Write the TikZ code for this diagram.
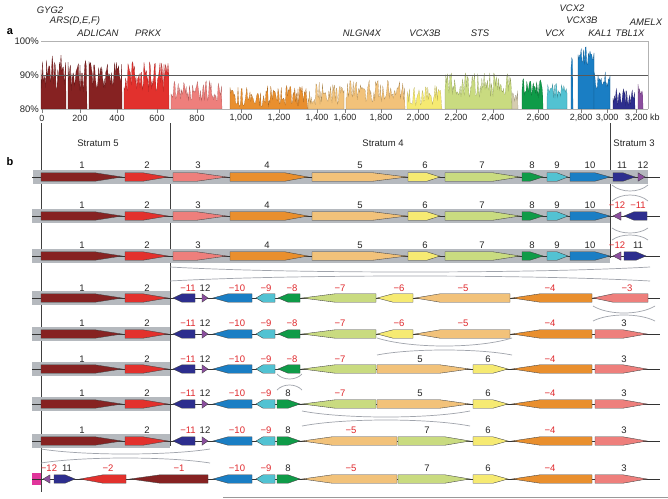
\documentclass[tikz,border=0pt]{standalone}
\usepackage{fontspec}
\setmainfont{Liberation Sans}
\definecolor{cDR}{HTML}{862222}
\definecolor{cR}{HTML}{E2312D}
\definecolor{cP}{HTML}{EE7F7C}
\definecolor{cO}{HTML}{E98F2E}
\definecolor{cLO}{HTML}{F2C27A}
\definecolor{cY}{HTML}{F6EA72}
\definecolor{cLG}{HTML}{C9DB80}
\definecolor{cG}{HTML}{0F9B48}
\definecolor{cC}{HTML}{52C2D2}
\definecolor{cB}{HTML}{1A7EC4}
\definecolor{cN}{HTML}{2D2E8E}
\definecolor{cPu}{HTML}{8B4E9E}
\definecolor{cM}{HTML}{E0359B}
\definecolor{cBeige}{HTML}{D6CDB0}
\definecolor{cBand}{HTML}{B5B9BE}
\definecolor{cRedTxt}{HTML}{E0282C}
\definecolor{cArc}{HTML}{A0A4AC}
\colorlet{kk}{black!85}
\tikzset{
  lbl/.style={font=\fontsize{9.5}{11}\selectfont, inner sep=0pt},
  tlbl/.style={font=\fontsize{9}{11}\selectfont, inner sep=0pt, text=kk},
  glbl/.style={font=\fontsize{9.5}{11}\selectfont\itshape, inner sep=0pt, text=kk},
  genestyle/.style={draw=black!75, line width=0.35pt},
  band/.style={fill=cBand},
  baseln/.style={draw=black!80, line width=0.45pt},
  arcln/.style={draw=cArc, line width=0.7pt},
  strat/.style={draw=black!75, line width=0.5pt}
}
% forward gene: y, xs, xe, taper, colour
\newcommand{\fg}[5]{\filldraw[genestyle, fill=#5] ({#2},{#1-4.2}) -- ({#3-#4},{#1-4.2}) -- ({#3},{#1}) -- ({#3-#4},{#1+4.2}) -- ({#2},{#1+4.2}) -- cycle;}
% reverse gene: y, xs(tip), xe, taper, colour
\newcommand{\rg}[5]{\filldraw[genestyle, fill=#5] ({#2},{#1}) -- ({#2+#4},{#1-4.2}) -- ({#3},{#1-4.2}) -- ({#3},{#1+4.2}) -- ({#2+#4},{#1+4.2}) -- cycle;}
% inversion marks: x1, x2, upper end, upper mid, lower end, lower mid
\newcommand{\inv}[6]{%
  \draw[arcln] ({#1},{#3}) .. controls ({#1+0.25*(#2-#1)},{(4*#4-#3)/3}) and ({#1+0.75*(#2-#1)},{(4*#4-#3)/3}) .. ({#2},{#3});
  \draw[arcln] ({#1},{#5}) .. controls ({#1+0.25*(#2-#1)},{(4*#6-#5)/3}) and ({#1+0.75*(#2-#1)},{(4*#6-#5)/3}) .. ({#2},{#5});}
% chart segment: x1, x2, lo%, hi%, colour
\newcommand{\seg}[5]{%
  \pgfmathtruncatemacro{\nn}{(#2-#1)/0.8}%
  \fill[#5, draw=#5!70!black, line width=0.15pt] ({#1},109)
    \foreach \k in {0,...,\nn} { -- ({#1+0.8*\k},{109-3.4*(#3+(#4-#3)*rnd-80)}) }
    -- ({#2},109) -- cycle;}
\newcommand{\gOneTwo}[1]{\fg{#1}{41}{122}{27}{cDR}\fg{#1}{125}{168}{25}{cR}}
\newcommand{\gThreeTen}[1]{\fg{#1}{173}{227}{30}{cP}\fg{#1}{230}{308}{23}{cO}\fg{#1}{312}{407}{34}{cLO}\fg{#1}{408}{440}{13}{cY}\fg{#1}{445}{520}{27}{cLG}\fg{#1}{522}{543}{13}{cG}\fg{#1}{547}{568}{11}{cC}\fg{#1}{570}{610}{15}{cB}}
\newcommand{\gMid}[1]{\rg{#1}{173}{195}{9}{cN}\fg{#1}{202}{208}{6}{cPu}\rg{#1}{213}{252}{15}{cB}\rg{#1}{256}{275}{7}{cC}}
\newcommand{\gLeftNine}[1]{\rg{#1}{213}{252}{15}{cB}\rg{#1}{256}{275}{7}{cC}}
\begin{document}
\begin{tikzpicture}[x=1pt,y=-1pt]
\useasboundingbox (0,0) rectangle (668,498);
\fill[white] (0,0) rectangle (668,498);

% ---------------- panel a ----------------
\node[font=\fontsize{11}{12}\selectfont\bfseries, inner sep=0] (pa) at (10,32) {a};
\node[font=\fontsize{11}{12}\selectfont\bfseries, inner sep=0] (pb) at (10,162) {b};

\draw[black!30, line width=1pt] (41,41) -- (648,41) -- (648,109);
\pgfmathsetseed{4242}
\seg{41}{66}{86}{96}{cDR}
\seg{68}{87}{85}{95}{cDR}
\seg{89}{122}{86}{94.5}{cDR}
\seg{124}{169}{85}{94}{cR}
\seg{171}{222}{82}{88.5}{cP}
\seg{230}{308}{80.5}{87}{cO}
\seg{308}{344}{81}{88}{cLO}
\seg{346}{405}{82}{88.5}{cLO}
\seg{407}{442}{81}{87}{cY}
\seg{445}{512}{83.5}{91}{cLG}
\seg{512}{518}{82}{86}{cBeige}
\seg{522}{543}{83}{89}{cG}
\seg{547}{567}{83}{87.5}{cC}
\seg{571}{573}{90}{96}{cB}
\seg{578}{594}{93}{98.5}{cB}
\seg{594}{610}{86}{91}{cB}
\seg{613}{635}{81}{86}{cN}
\seg{638}{643}{82}{89}{cPu}
\draw[black!65, line width=0.4pt] (41,75) -- (648,75);
\draw[black!30, line width=0.6pt] (41,109) -- (648,109);

\node[lbl, anchor=east, text=kk] (y100) at (39,41) {100\%};
\node[lbl, anchor=east, text=kk] (y90) at (39,75) {90\%};
\node[lbl, anchor=east, text=kk] (y80) at (39,109) {80\%};

\foreach \x/\t [count=\i] in {42/0,80/200,117/400,157/600,197/800,241/{1,000},279/{1,200},317/{1,400},345/{1,600},381/{1,800},418/{2,000},456/{2,200},493/{2,400},538/{2,600},581/{2,800},607/{3,000}}{
  \draw[black!50, line width=0.4pt] (\x,109) -- (\x,112.5);
  \node[tlbl] (tk\i) at (\x,118) {\t};
}
\draw[black!50, line width=0.4pt] (636,109) -- (636,112.5);
\node[tlbl, anchor=west] (tk17) at (625,118) {3,200 kb};

\node[glbl] (gyg) at (50,10) {GYG2};
\node[glbl] (ars) at (75,21) {ARS(D,E,F)};
\node[glbl] (adl) at (98,33) {ADLICAN};
\node[glbl] (prkx) at (148,33) {PRKX};
\node[glbl] (nlgn) at (362,33) {NLGN4X};
\node[glbl] (vcx3a) at (425,33) {VCX3B};
\node[glbl] (sts) at (480,33) {STS};
\node[glbl] (vcx) at (555,33) {VCX};
\node[glbl] (vcx2) at (572,8) {VCX2};
\node[glbl] (vcx3b) at (582,20) {VCX3B};
\node[glbl] (kal) at (600,33) {KAL1};
\node[glbl] (tbl) at (630,33) {TBL1X};
\node[glbl] (amelx) at (646,22) {AMELX};

% ---------------- panel b ----------------
\draw[strat] (41,123) -- (41,492);
\draw[strat] (170,123) -- (170,446);
\draw[strat] (610,123) -- (610,258);
\node[lbl, text=kk] (s5) at (98,143) {Stratum 5};
\node[lbl, text=kk] (s4) at (383,143) {Stratum 4};
\node[lbl, text=kk] (s3) at (634,143) {Stratum 3};

% bands
\fill[band] (33,170) rectangle (648,184);
\fill[band] (32,209) rectangle (610,223);
\fill[band] (32,249) rectangle (610,263);
\foreach \y in {298,334,369,404,441}{ \fill[band] (32,\y-7) rectangle (170,\y+7); }
% baselines
\foreach \y in {177,216,256,298,334,369,404,441,479}{ \draw[baseln] (32,\y) -- (660,\y); }

% row 1
\gOneTwo{177}\gThreeTen{177}\fg{177}{613}{635}{12}{cN}\fg{177}{638}{645}{7}{cPu}
% row 2
\gOneTwo{216}\gThreeTen{216}\rg{216}{613}{621}{8}{cPu}\rg{216}{624}{647}{10}{cN}
% row 3
\gOneTwo{256}\gThreeTen{256}\rg{256}{613}{621}{8}{cPu}\fg{256}{624}{646}{10}{cN}
% row 4
\gOneTwo{298}\gMid{298}\rg{298}{278}{300}{10}{cG}\rg{298}{302}{376}{33}{cLG}\rg{298}{377}{413}{16}{cY}\rg{298}{415}{510}{25}{cLO}\rg{298}{512}{592}{28}{cO}\rg{298}{593}{648}{20}{cP}
% row 5
\gOneTwo{334}\gMid{334}\rg{334}{278}{300}{10}{cG}\rg{334}{302}{376}{33}{cLG}\rg{334}{377}{413}{16}{cY}\rg{334}{415}{510}{25}{cLO}\rg{334}{512}{592}{28}{cO}\fg{334}{595}{647}{24}{cP}
% row 6
\gOneTwo{369}\gMid{369}\rg{369}{278}{300}{10}{cG}\rg{369}{302}{376}{33}{cLG}\fg{369}{377}{470}{30}{cLO}\fg{369}{473}{508}{15}{cY}\rg{369}{512}{592}{28}{cO}\fg{369}{595}{647}{24}{cP}
% row 7
\gOneTwo{404}\gMid{404}\fg{404}{277}{300}{12}{cG}\rg{404}{302}{376}{33}{cLG}\fg{404}{377}{470}{30}{cLO}\fg{404}{473}{508}{15}{cY}\rg{404}{512}{592}{28}{cO}\fg{404}{595}{647}{24}{cP}
% row 8
\gOneTwo{441}\gMid{441}\fg{441}{277}{300}{12}{cG}\rg{441}{302}{397}{30}{cLO}\fg{441}{398}{470}{25}{cLG}\fg{441}{473}{508}{15}{cY}\rg{441}{512}{592}{28}{cO}\fg{441}{595}{647}{24}{cP}
% row 9
\fill[cM] (32,473) rectangle (41,485);
\draw[baseln] (32,479) -- (41,479);
\rg{479}{43}{50}{7}{cPu}\fg{479}{54}{75}{10}{cN}\rg{479}{80}{126}{23}{cR}\rg{479}{130}{208}{30}{cDR}\gLeftNine{479}\fg{479}{277}{300}{12}{cG}\rg{479}{302}{397}{30}{cLO}\fg{479}{398}{470}{25}{cLG}\fg{479}{473}{508}{15}{cY}\rg{479}{512}{592}{28}{cO}\fg{479}{595}{647}{24}{cP}

% labels
\foreach \x/\t/\c [count=\i] in {82/1/kk,147/2/kk,198/3/kk,267/4/kk,360/5/kk,425/6/kk,482/7/kk,532/8/kk,557/9/kk,590/10/kk,622/11/kk,643/12/kk}{\node[lbl,text=\c] (ra\i) at (\x,165) {\t};}
\foreach \x/\t/\c [count=\i] in {82/1/kk,147/2/kk,198/3/kk,267/4/kk,360/5/kk,425/6/kk,482/7/kk,532/8/kk,557/9/kk,590/10/kk,617/−12/cRedTxt,638/−11/cRedTxt}{\node[lbl,text=\c] (rb\i) at (\x,205) {\t};}
\foreach \x/\t/\c [count=\i] in {82/1/kk,147/2/kk,198/3/kk,267/4/kk,360/5/kk,425/6/kk,482/7/kk,532/8/kk,557/9/kk,590/10/kk,617/−12/cRedTxt,638/11/kk}{\node[lbl,text=\c] (rc\i) at (\x,245) {\t};}
\foreach \x/\t/\c [count=\i] in {82/1/kk,147/2/kk,188/−11/cRedTxt,205/12/kk,237/−10/cRedTxt,266/−9/cRedTxt,292/−8/cRedTxt,340/−7/cRedTxt,399/−6/cRedTxt,463/−5/cRedTxt,550/−4/cRedTxt,627/−3/cRedTxt}{\node[lbl,text=\c] (rd\i) at (\x,288) {\t};}
\foreach \x/\t/\c [count=\i] in {82/1/kk,147/2/kk,188/−11/cRedTxt,205/12/kk,237/−10/cRedTxt,266/−9/cRedTxt,292/−8/cRedTxt,340/−7/cRedTxt,399/−6/cRedTxt,463/−5/cRedTxt,550/−4/cRedTxt,624/3/kk}{\node[lbl,text=\c] (re\i) at (\x,323) {\t};}
\foreach \x/\t/\c [count=\i] in {82/1/kk,147/2/kk,188/−11/cRedTxt,205/12/kk,237/−10/cRedTxt,266/−9/cRedTxt,292/−8/cRedTxt,340/−7/cRedTxt,420/5/kk,488/6/kk,550/−4/cRedTxt,624/3/kk}{\node[lbl,text=\c] (rf\i) at (\x,359) {\t};}
\foreach \x/\t/\c [count=\i] in {82/1/kk,147/2/kk,188/−11/cRedTxt,205/12/kk,237/−10/cRedTxt,266/−9/cRedTxt,288/8/kk,340/−7/cRedTxt,420/5/kk,488/6/kk,550/−4/cRedTxt,624/3/kk}{\node[lbl,text=\c] (rg\i) at (\x,393) {\t};}
\foreach \x/\t/\c [count=\i] in {82/1/kk,147/2/kk,188/−11/cRedTxt,205/12/kk,237/−10/cRedTxt,266/−9/cRedTxt,288/8/kk,351/−5/cRedTxt,427/7/kk,488/6/kk,550/−4/cRedTxt,624/3/kk}{\node[lbl,text=\c] (rh\i) at (\x,430) {\t};}
\foreach \x/\t/\c [count=\i] in {49/−12/cRedTxt,67/11/kk,108/−2/cRedTxt,179/−1/cRedTxt,237/−10/cRedTxt,266/−9/cRedTxt,288/8/kk,351/−5/cRedTxt,427/7/kk,488/6/kk,550/−4/cRedTxt,624/3/kk}{\node[lbl,text=\c] (ri\i) at (\x,468) {\t};}

% inversion marks
\inv{612}{648}{185}{191}{201}{195}
\inv{612}{648}{228}{233}{240}{235}
\inv{170}{650}{267}{272}{281}{276}
\inv{593}{655}{306}{313}{321}{315}
\inv{377}{512}{338}{346}{355}{350}
\inv{277}{302}{374}{379}{390}{385}
\inv{302}{470}{411}{417}{426}{420}
\inv{41}{210}{449}{454}{463}{458}

\draw[black!40, line width=0.8pt] (223,497) -- (668,497);
\end{tikzpicture}
\end{document}
